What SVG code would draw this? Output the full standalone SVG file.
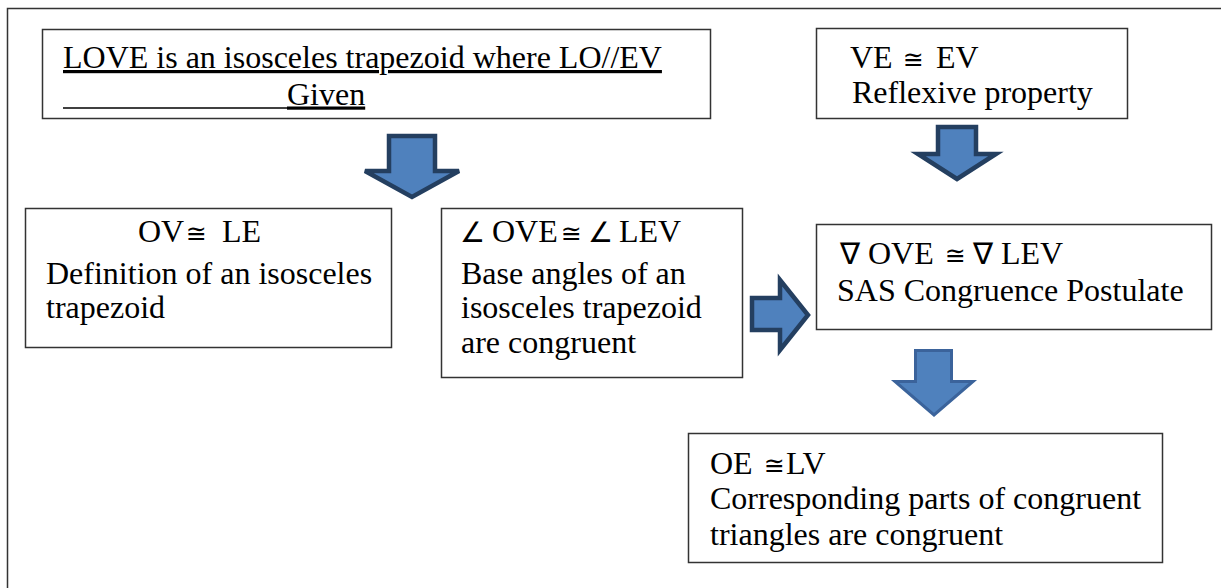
<svg xmlns="http://www.w3.org/2000/svg" width="1221" height="588" viewBox="0 0 1221 588">
  <style>
    .box { fill: #ffffff; stroke: #333333; stroke-width: 1.5; }
    .frame { fill: none; stroke: #333333; stroke-width: 1.5; }
    .t { font-family: "Liberation Serif", "Times New Roman", "DejaVu Serif", serif; font-size: 32px; fill: #000000; }
    .sym { font-family: "DejaVu Sans", "Liberation Serif", sans-serif; font-size: 25px; }
    .tri { font-family: "DejaVu Sans", "Liberation Serif", sans-serif; font-size: 30px; }
    .ang { font-family: "DejaVu Sans", "Liberation Serif", sans-serif; font-size: 28px; }
    .arrow { fill: #4f81bd; stroke: #243f60; stroke-width: 4.5; stroke-linejoin: miter; }
    .arrow-soft { fill: #4f81bd; stroke: #3a649b; stroke-width: 3; stroke-linejoin: miter; }
    .ul { stroke: #000000; stroke-width: 1.6; }
  </style>
  <defs>
    <filter id="soften" x="-10%" y="-10%" width="120%" height="120%">
      <feGaussianBlur stdDeviation="0.6"/>
    </filter>
  </defs>

  <rect width="1221" height="588" fill="#ffffff"/>
  <!-- outer frame: top and left edges -->
  <path class="frame" d="M7.5 588 V8.5 H1221"/>

  <g id="node-given">
    <rect class="box" x="42.5" y="29.5" width="668" height="89"/>
    <text class="t" x="63" y="68" text-decoration="underline">LOVE is an isosceles trapezoid where LO//EV</text>
    <!-- underlined blank run before "Given" -->
    <line class="ul" x1="63" y1="108" x2="288" y2="108"/>
    <text class="t" x="287" y="104.5" text-decoration="underline">Given</text>
  </g>

  <g id="node-reflexive">
    <rect class="box" x="816.5" y="28.5" width="311" height="90"/>
    <text class="t" y="68"><tspan x="850">VE</tspan><tspan class="sym" x="903">≅</tspan><tspan x="936">EV</tspan></text>
    <text class="t" x="852" y="103">Reflexive property</text>
  </g>

  <g id="node-def">
    <rect class="box" x="25.5" y="208.5" width="366" height="139"/>
    <text class="t" y="242"><tspan x="138">OV</tspan><tspan class="sym" x="186">≅</tspan><tspan x="222">LE</tspan></text>
    <text class="t" x="46" y="284">Definition of an isosceles</text>
    <text class="t" x="46" y="318">trapezoid</text>
  </g>

  <g id="node-base-angles">
    <rect class="box" x="441.5" y="208.5" width="301" height="169"/>
    <text class="t" y="242"><tspan class="ang" x="460">∠</tspan><tspan x="492">OVE</tspan><tspan class="sym" x="561">≅</tspan><tspan class="ang" x="588">∠</tspan><tspan x="619">LEV</tspan></text>
    <text class="t" x="461" y="284">Base angles of an</text>
    <text class="t" x="461" y="318">isosceles trapezoid</text>
    <text class="t" x="461" y="353">are congruent</text>
  </g>

  <g id="node-sas">
    <rect class="box" x="816.5" y="224.5" width="395" height="105"/>
    <text class="t" y="264"><tspan class="tri" x="840">∇</tspan><tspan x="868">OVE</tspan><tspan class="sym" x="945">≅</tspan><tspan class="tri" x="973">∇</tspan><tspan x="1001">LEV</tspan></text>
    <text class="t" x="837" y="301">SAS Congruence Postulate</text>
  </g>

  <g id="node-cpctc">
    <rect class="box" x="688.5" y="433.5" width="474" height="129"/>
    <text class="t" y="474"><tspan x="710">OE</tspan><tspan class="sym" x="764">≅</tspan><tspan x="786">LV</tspan></text>
    <text class="t" x="710" y="509">Corresponding parts of congruent</text>
    <text class="t" x="710" y="545">triangles are congruent</text>
  </g>

  <g id="connectors">
    <!-- given -> definition / base angles -->
    <polygon class="arrow" points="389,136 435,136 435,171 459,171 412,197 365,171 389,171"/>
    <!-- reflexive -> SAS -->
    <polygon class="arrow" points="938,127 976,127 976,154 996,154 957,179 918,154 938,154"/>
    <!-- base angles -> SAS -->
    <polygon class="arrow" points="752,298 780,298 780,280 808,315 780,350 780,330 752,330"/>
    <!-- SAS -> corresponding parts -->
    <polygon class="arrow-soft" filter="url(#soften)" points="915.5,350.5 951.5,350.5 951.5,381.5 973,381.5 934,415 895,381.5 915.5,381.5"/>
  </g>
</svg>
